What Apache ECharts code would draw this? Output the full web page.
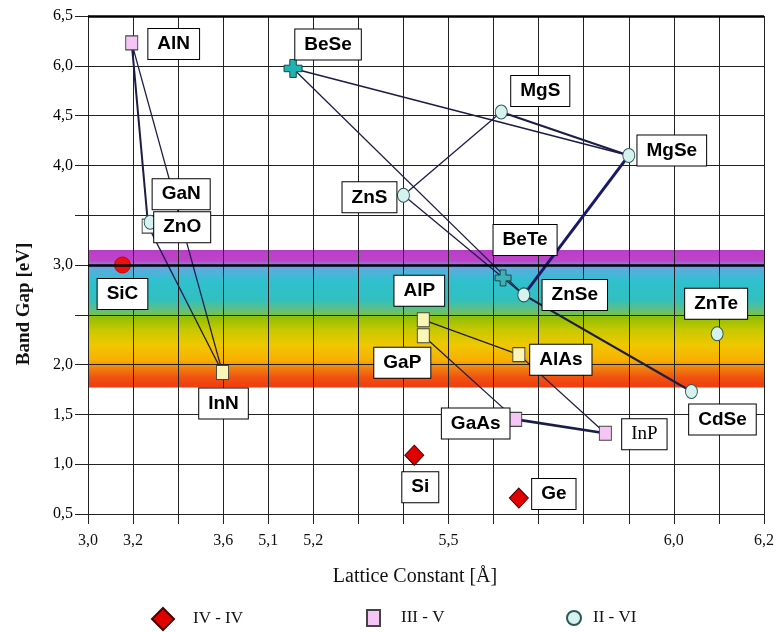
<!DOCTYPE html>
<html><head><meta charset="utf-8">
<script src="https://cdn.jsdelivr.net/npm/echarts@6/dist/echarts.min.js"></script>
<style>html,body{margin:0;padding:0;background:#fff}#c{width:777px;height:632px}</style>
</head><body><div id="c"></div>
<script>
// ---------------- data ----------------
const ivNames   = ['SiC','Si','Ge'];
const ivLattice = [3.153, 5.424, 5.656];   // Å
const ivGap     = [3.00, 1.09, 0.66];      // eV

const iiivNames   = ['AlN','GaN','InN','AlP','GaP','AlAs','GaAs','InP'];
const iiivLattice = [3.194, 3.267, 3.597, 5.444, 5.444, 5.656, 5.649, 5.848];
const iiivGap     = [6.23, 3.39, 1.92, 2.45, 2.29, 2.10, 1.45, 1.31];

const iiviNames   = ['ZnO','BeSe','MgS','MgSe','ZnS','BeTe','ZnSe','ZnTe','CdSe'];
const iiviLattice = [3.276, 5.155, 5.617, 5.900, 5.400, 5.621, 5.667, 6.096, 6.039];
const iiviGap     = [3.43, 5.92, 4.61, 4.10, 3.70, 2.87, 2.70, 2.31, 1.73];

const links = [['AlN','GaN'],['AlN','InN'],['GaN','InN'],['BeSe','MgSe'],['MgS','MgSe'],
  ['ZnS','MgS'],['BeSe','ZnSe'],['ZnS','ZnSe'],['MgSe','ZnSe'],['ZnSe','CdSe'],
  ['AlP','AlAs'],['GaP','GaAs'],['GaAs','InP'],['AlAs','InP']];

const xTickValues = [3.0, 3.2, 3.6, 5.1, 5.2, 5.5, 6.0, 6.2];
const yTickValues = [0.5, 1.0, 1.5, 2.0, 3.0, 4.0, 4.5, 6.0, 6.5];
const visibleBand = [1.77, 3.15];          // eV
const legendNames = ['IV - IV', 'III - V', 'II - VI'];

// broken-axis scale definitions (value -> grid step)
const xScaleBreaks = [[3.0,0],[3.6,3],[5.1,4],[6.2,15]];
const yScaleBreaks = [[0.5,0],[4.5,8],[6.0,9],[6.5,10]];
function piece(br, v){
  for (let i = 0; i < br.length - 1; i++) {
    const [a, ua] = br[i], [b, ub] = br[i+1];
    if (v <= b || i === br.length - 2) return ua + (v - a) * (ub - ua) / (b - a);
  }
}
const xs = v => piece(xScaleBreaks, v);
const ys = v => piece(yScaleBreaks, v);
const fmt = v => v.toFixed(1).replace('.', ',');
function tickLabel(ticks, scale, u){
  for (const t of ticks) if (Math.abs(scale(t) - u) < 1e-6) return fmt(t);
  return '';
}

// ---------------- styling ----------------
const crossPath = 'path://M3.2,0 H6.8 V3.2 H10 V6.8 H6.8 V10 H3.2 V6.8 H0 V3.2 H3.2 Z';
const pale = '#fbf6b8';
const pointStyle = {
  SiC:  {symbol:'circle', symbolSize:16, itemStyle:{color:'#ee1010', borderColor:'#d00000'}},
  GaN:  {itemStyle:{color:'#fbfbfb'}},
  InN:  {itemStyle:{color:pale}}, AlP:{itemStyle:{color:pale}},
  GaP:  {itemStyle:{color:pale}}, AlAs:{itemStyle:{color:pale}},
  BeSe: {symbol:crossPath, symbolSize:18, itemStyle:{color:'#1fb3b3', borderColor:'#174848'}},
  BeTe: {symbol:crossPath, symbolSize:16, itemStyle:{color:'#3fb0b6', borderColor:'#1e4a4a'}}
};
const labelOffset = {
  AlN:[42,1], BeSe:[35,-24], MgS:[39,-21], MgSe:[43,-5], ZnS:[-34,2], GaN:[33,-32],
  ZnO:[32,5], SiC:[0,29], InN:[1,31], AlP:[-4,-29], GaP:[-21,27], AlAs:[42,5],
  GaAs:[-40,4], InP:[39,1], BeTe:[22,-38], ZnSe:[51,0], ZnTe:[-1,-30], CdSe:[31,28],
  Si:[6,32], Ge:[35,-4]
};
const labelFont = '"Liberation Sans Narrow", "Liberation Sans", Arial, sans-serif';
const serif = '"Liberation Serif", "Times New Roman", serif';
const linkStyle = {
  'MgSe-ZnSe':{width:3, color:'#18186c'}, 'ZnSe-CdSe':{width:2.2}, 'GaAs-InP':{width:2.6},
  'MgS-MgSe':{width:2}, 'AlN-GaN':{width:2}, 'BeSe-MgSe':{width:1.6}
};

const pos = {};
function build(names, lat, gap){
  return names.map((n, i) => {
    pos[n] = [xs(lat[i]), ys(gap[i])];
    const st = pointStyle[n] || {};
    const lab = {offset: labelOffset[n] || [0,0]};
    if (n === 'InP') { lab.fontFamily = serif; lab.fontWeight = 'normal'; }
    return Object.assign({name:n, value:pos[n], label:lab}, st);
  });
}
const ivData = build(ivNames, ivLattice, ivGap);
const iiivData = build(iiivNames, iiivLattice, iiivGap);
const iiviData = build(iiviNames, iiviLattice, iiviGap);

const labelBase = {
  show:true, position:'inside', formatter:'{b}', fontFamily:labelFont, fontWeight:'bold',
  fontSize:19, color:'#000', backgroundColor:'#fff', borderColor:'#000', borderWidth:1,
  padding:[6,9,5,9]
};

const bandGradient = new echarts.graphic.LinearGradient(0,0,0,1,[
  {offset:0.00, color:'#b73ec8'}, {offset:0.08, color:'#c044c8'}, {offset:0.10, color:'#8a7ed8'},
  {offset:0.13, color:'#62a8e0'}, {offset:0.22, color:'#30c0d0'}, {offset:0.36, color:'#30c0c0'},
  {offset:0.44, color:'#62c07c'}, {offset:0.50, color:'#98c000'}, {offset:0.58, color:'#c8c800'},
  {offset:0.69, color:'#f0c800'}, {offset:0.80, color:'#f8b000'}, {offset:0.86, color:'#f08010'},
  {offset:0.93, color:'#f05010'}, {offset:1.00, color:'#f03c10'}
]);

const legendText = {fontFamily:serif, fontSize:17, color:'#111', lineHeight:22};
const chart = echarts.init(document.getElementById('c'), null, {renderer:'canvas'});
chart.setOption({
  animation:false,
  grid:{left:88, right:11, top:16, bottom:118},
  xAxis:{
    type:'value', min:0, max:15, interval:1, z:1,
    name:'Lattice Constant [Å]', nameLocation:'middle', nameGap:53,
    nameTextStyle:{fontFamily:serif, fontSize:20, color:'#111', padding:[0,22,0,0]},
    axisLine:{show:true, lineStyle:{color:'#222', width:1}},
    axisTick:{show:true, length:10, lineStyle:{color:'#222'}},
    splitLine:{show:true, lineStyle:{color:'#222', width:1}},
    axisLabel:{margin:19, fontFamily:serif, fontSize:16, color:'#111',
      formatter: u => tickLabel(xTickValues, xs, u)}
  },
  yAxis:{
    type:'value', min:0, max:10, interval:1, z:1,
    name:'Band Gap [eV]', nameLocation:'middle', nameGap:54, nameRotate:90,
    nameTextStyle:{fontFamily:serif, fontSize:19, fontWeight:'bold', color:'#111', padding:[0,78,0,0]},
    axisLine:{show:true, lineStyle:{color:'#222', width:1}},
    axisTick:{show:true, length:13, lineStyle:{color:'#222'}},
    splitLine:{show:true, lineStyle:{color:'#222', width:1}},
    axisLabel:{margin:15, fontFamily:serif, fontSize:16, color:'#000',
      formatter: u => tickLabel(yTickValues, ys, u)}
  },
  legend:[
    {data:[legendNames[0]], left:146, top:602, itemWidth:22, itemHeight:22,
     textStyle:Object.assign({padding:[0,0,0,14]}, legendText)},
    {data:[legendNames[1]], left:361, top:602, itemWidth:13, itemHeight:16,
     textStyle:Object.assign({padding:[0,0,0,16]}, legendText)},
    {data:[legendNames[2]], left:561, top:602, itemWidth:14, itemHeight:14,
     textStyle:Object.assign({padding:[0,0,0,7]}, legendText)}
  ],
  series:[
    {type:'custom', name:'band', z:0, silent:true,
     encode:{x:[0,1], y:[2,3]},
     data:[[xs(xTickValues[0]), xs(xTickValues[xTickValues.length-1]), ys(visibleBand[0]), ys(visibleBand[1])]],
     renderItem:(params, api) => {
       const p0 = api.coord([api.value(0), api.value(3)]);
       const p1 = api.coord([api.value(1), api.value(2)]);
       return {type:'rect', shape:{x:p0[0], y:p0[1], width:p1[0]-p0[0], height:p1[1]-p0[1]},
               style:{fill:bandGradient}};
     }},
    {type:'lines', name:'links', coordinateSystem:'cartesian2d', z:2, silent:true,
     lineStyle:{color:'#1c1c48', width:1.3, opacity:1, curveness:0},
     data: links.map(([a,b]) => ({coords:[pos[a], pos[b]],
        lineStyle:Object.assign({color:'#1c1c48', width:1.3, opacity:1}, linkStyle[a+'-'+b] || {})})),
     markLine:{silent:true, symbol:'none', label:{show:false},
       lineStyle:{color:'#000', width:2.5, type:'solid'},
       data:[{yAxis: ys(yTickValues[4])}, {yAxis: ys(yTickValues[yTickValues.length-1])}]}
    },
    {type:'scatter', name:legendNames[0], z:3, symbol:'diamond', symbolSize:[19,20],
     itemStyle:{color:'#e00000', borderColor:'#4a0000', borderWidth:1, opacity:1},
     label:labelBase, data:ivData},
    {type:'scatter', name:legendNames[1], z:3, symbol:'rect', symbolSize:[12,14],
     itemStyle:{color:'#f5c6f5', borderColor:'#444', borderWidth:1, opacity:1},
     label:labelBase, data:iiivData},
    {type:'scatter', name:legendNames[2], z:3, symbol:'circle', symbolSize:[12,14],
     itemStyle:{color:'#d6f2ee', borderColor:'#2a5858', borderWidth:1, opacity:1},
     label:labelBase, data:iiviData}
  ]
});
</script></body></html>
